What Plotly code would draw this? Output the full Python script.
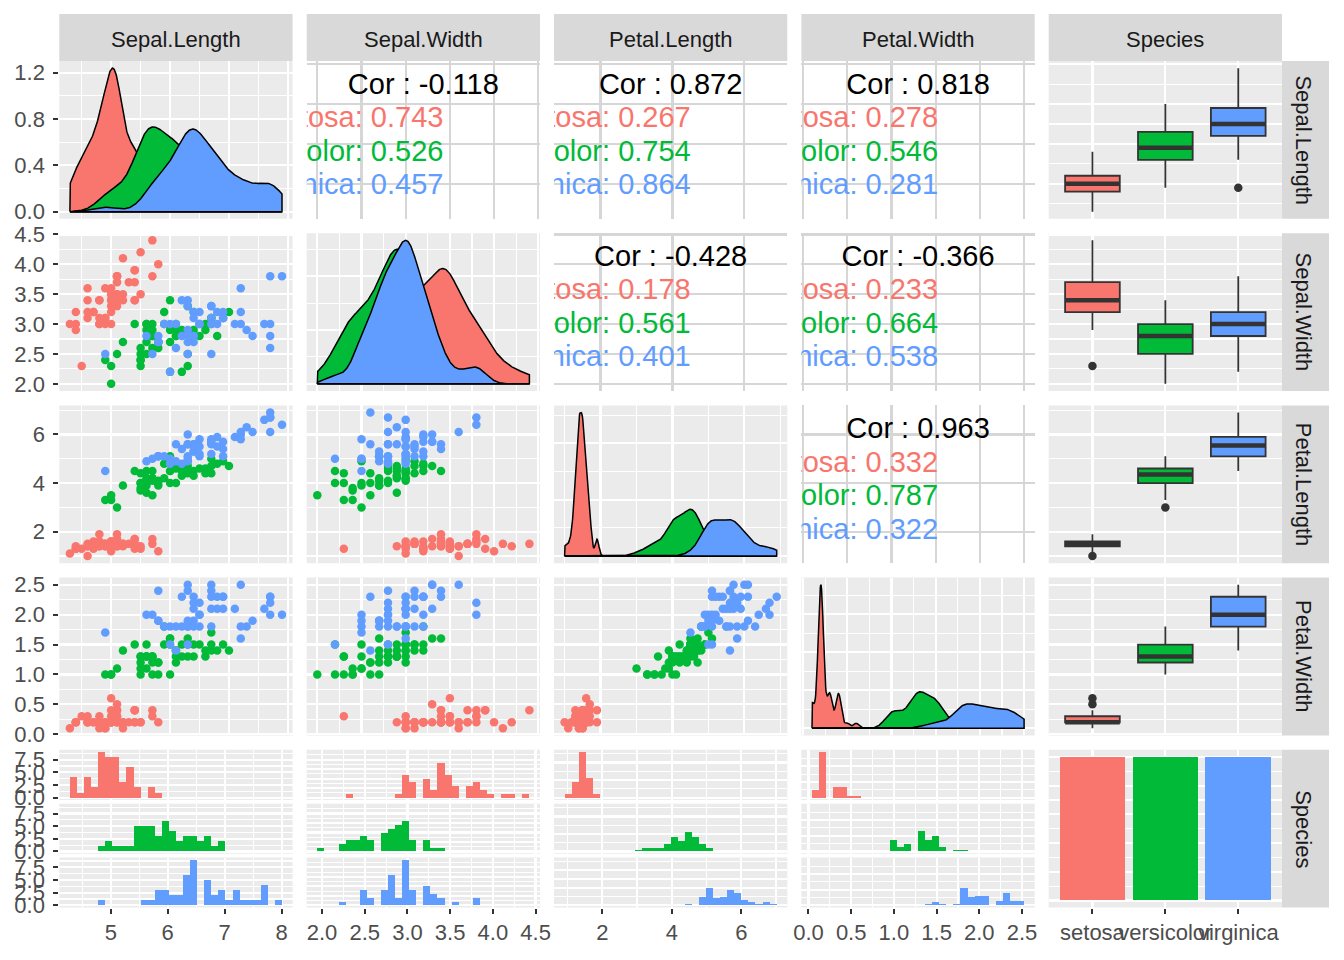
import numpy as np
import plotly.graph_objects as go
from math import ceil, floor, log10

W, H = 1344, 960
FONT = "Liberation Sans, Arial, sans-serif"

# ---------------- data ----------------
variables = ["Sepal.Length", "Sepal.Width", "Petal.Length", "Petal.Width"]
species_names = ["setosa", "versicolor", "virginica"]
species_colors = ["#F8766D", "#00BA38", "#619CFF"]

sepal_length = [
    5.1, 4.9, 4.7, 4.6, 5.0, 5.4, 4.6, 5.0, 4.4, 4.9, 5.4, 4.8, 4.8, 4.3, 5.8, 5.7, 5.4, 5.1, 5.7, 5.1,
    5.4, 5.1, 4.6, 5.1, 4.8, 5.0, 5.0, 5.2, 5.2, 4.7, 4.8, 5.4, 5.2, 5.5, 4.9, 5.0, 5.5, 4.9, 4.4, 5.1,
    5.0, 4.5, 4.4, 5.0, 5.1, 4.8, 5.1, 4.6, 5.3, 5.0,
    7.0, 6.4, 6.9, 5.5, 6.5, 5.7, 6.3, 4.9, 6.6, 5.2, 5.0, 5.9, 6.0, 6.1, 5.6, 6.7, 5.6, 5.8, 6.2, 5.6,
    5.9, 6.1, 6.3, 6.1, 6.4, 6.6, 6.8, 6.7, 6.0, 5.7, 5.5, 5.5, 5.8, 6.0, 5.4, 6.0, 6.7, 6.3, 5.6, 5.5,
    5.5, 6.1, 5.8, 5.0, 5.6, 5.7, 5.7, 6.2, 5.1, 5.7,
    6.3, 5.8, 7.1, 6.3, 6.5, 7.6, 4.9, 7.3, 6.7, 7.2, 6.5, 6.4, 6.8, 5.7, 5.8, 6.4, 6.5, 7.7, 7.7, 6.0,
    6.9, 5.6, 7.7, 6.3, 6.7, 7.2, 6.2, 6.1, 6.4, 7.2, 7.4, 7.9, 6.4, 6.3, 6.1, 7.7, 6.3, 6.4, 6.0, 6.9,
    6.7, 6.9, 5.8, 6.8, 6.7, 6.7, 6.3, 6.5, 6.2, 5.9]
sepal_width = [
    3.5, 3.0, 3.2, 3.1, 3.6, 3.9, 3.4, 3.4, 2.9, 3.1, 3.7, 3.4, 3.0, 3.0, 4.0, 4.4, 3.9, 3.5, 3.8, 3.8,
    3.4, 3.7, 3.6, 3.3, 3.4, 3.0, 3.4, 3.5, 3.4, 3.2, 3.1, 3.4, 4.1, 4.2, 3.1, 3.2, 3.5, 3.6, 3.0, 3.4,
    3.5, 2.3, 3.2, 3.5, 3.8, 3.0, 3.8, 3.2, 3.7, 3.3,
    3.2, 3.2, 3.1, 2.3, 2.8, 2.8, 3.3, 2.4, 2.9, 2.7, 2.0, 3.0, 2.2, 2.9, 2.9, 3.1, 3.0, 2.7, 2.2, 2.5,
    3.2, 2.8, 2.5, 2.8, 2.9, 3.0, 2.8, 3.0, 2.9, 2.6, 2.4, 2.4, 2.7, 2.7, 3.0, 3.4, 3.1, 2.3, 3.0, 2.5,
    2.6, 3.0, 2.6, 2.3, 2.7, 3.0, 2.9, 2.9, 2.5, 2.8,
    3.3, 2.7, 3.0, 2.9, 3.0, 3.0, 2.5, 2.9, 2.5, 3.6, 3.2, 2.7, 3.0, 2.5, 2.8, 3.2, 3.0, 3.8, 2.6, 2.2,
    3.2, 2.8, 2.8, 2.7, 3.3, 3.2, 2.8, 3.0, 2.8, 3.0, 2.8, 3.8, 2.8, 2.8, 2.6, 3.0, 3.4, 3.1, 3.0, 3.1,
    3.1, 3.1, 2.7, 3.2, 3.3, 3.0, 2.5, 3.0, 3.4, 3.0]
petal_length = [
    1.4, 1.4, 1.3, 1.5, 1.4, 1.7, 1.4, 1.5, 1.4, 1.5, 1.5, 1.6, 1.4, 1.1, 1.2, 1.5, 1.3, 1.4, 1.7, 1.5,
    1.7, 1.5, 1.0, 1.7, 1.9, 1.6, 1.6, 1.5, 1.4, 1.6, 1.6, 1.5, 1.5, 1.4, 1.5, 1.2, 1.3, 1.4, 1.3, 1.5,
    1.3, 1.3, 1.3, 1.6, 1.9, 1.4, 1.6, 1.4, 1.5, 1.4,
    4.7, 4.5, 4.9, 4.0, 4.6, 4.5, 4.7, 3.3, 4.6, 3.9, 3.5, 4.2, 4.0, 4.7, 3.6, 4.4, 4.5, 4.1, 4.5, 3.9,
    4.8, 4.0, 4.9, 4.7, 4.3, 4.4, 4.8, 5.0, 4.5, 3.5, 3.8, 3.7, 3.9, 5.1, 4.5, 4.5, 4.7, 4.4, 4.1, 4.0,
    4.4, 4.6, 4.0, 3.3, 4.2, 4.2, 4.2, 4.3, 3.0, 4.1,
    6.0, 5.1, 5.9, 5.6, 5.8, 6.6, 4.5, 6.3, 5.8, 6.1, 5.1, 5.3, 5.5, 5.0, 5.1, 5.3, 5.5, 6.7, 6.9, 5.0,
    5.7, 4.9, 6.7, 4.9, 5.7, 6.0, 4.8, 4.9, 5.6, 5.8, 6.1, 6.4, 5.6, 5.1, 5.6, 6.1, 5.6, 5.5, 4.8, 5.4,
    5.6, 5.1, 5.1, 5.9, 5.7, 5.2, 5.0, 5.2, 5.4, 5.1]
petal_width = [
    0.2, 0.2, 0.2, 0.2, 0.2, 0.4, 0.3, 0.2, 0.2, 0.1, 0.2, 0.2, 0.1, 0.1, 0.2, 0.4, 0.4, 0.3, 0.3, 0.3,
    0.2, 0.4, 0.2, 0.5, 0.2, 0.2, 0.4, 0.2, 0.2, 0.2, 0.2, 0.4, 0.1, 0.2, 0.2, 0.2, 0.2, 0.1, 0.2, 0.2,
    0.3, 0.3, 0.2, 0.6, 0.4, 0.3, 0.2, 0.2, 0.2, 0.2,
    1.4, 1.5, 1.5, 1.3, 1.5, 1.3, 1.6, 1.0, 1.3, 1.4, 1.0, 1.5, 1.0, 1.4, 1.3, 1.4, 1.5, 1.0, 1.5, 1.1,
    1.8, 1.3, 1.5, 1.2, 1.3, 1.4, 1.4, 1.7, 1.5, 1.0, 1.1, 1.0, 1.2, 1.6, 1.5, 1.6, 1.5, 1.3, 1.3, 1.3,
    1.2, 1.4, 1.2, 1.0, 1.3, 1.2, 1.3, 1.3, 1.1, 1.3,
    2.5, 1.9, 2.1, 1.8, 2.2, 2.1, 1.7, 1.8, 1.8, 2.5, 2.0, 1.9, 2.1, 2.0, 2.4, 2.3, 1.8, 2.2, 2.3, 1.5,
    2.3, 2.0, 2.0, 1.8, 2.1, 1.8, 1.8, 1.8, 2.1, 1.6, 1.9, 2.0, 2.2, 1.5, 1.4, 2.3, 2.4, 1.8, 1.8, 2.1,
    2.4, 2.3, 1.9, 2.3, 2.5, 2.3, 1.9, 2.0, 2.3, 1.8]
species = ["setosa"] * 50 + ["versicolor"] * 50 + ["virginica"] * 50

# correlation labels as printed in the upper panels (row var, col var)
cor_pairs = [(0, 1), (0, 2), (0, 3), (1, 2), (1, 3), (2, 3)]
cor_all = [-0.118, 0.872, 0.818, -0.428, -0.366, 0.963]
cor_setosa = [0.743, 0.267, 0.278, 0.178, 0.233, 0.332]
cor_versicolor = [0.526, 0.754, 0.546, 0.561, 0.664, 0.787]
cor_virginica = [0.457, 0.864, 0.281, 0.401, 0.538, 0.322]

# ---------------- helpers ----------------
data = [np.array(sepal_length), np.array(sepal_width), np.array(petal_length), np.array(petal_width)]
sp = np.array(species)
masks = [sp == s for s in species_names]


def extended(dmin, dmax, m=5):
    Q = [1, 5, 2, 2.5, 4, 3]
    w = [0.25, 0.2, 0.5, 0.05]
    n = len(Q)
    eps = 2.220446e-16 * 100
    best, best_score = None, -2.0
    rng = dmax - dmin
    j = 1
    while j < 30:
        stop = False
        for qi, q in enumerate(Q):
            sm = 1 - qi / (n - 1) - j + 1
            if w[0] * sm + w[1] + w[2] + w[3] < best_score:
                stop = True
                break
            k = 2
            while k < 60:
                dm = 2 - (k - 1) / (m - 1) if k >= m else 1
                if w[0] * sm + w[1] + w[2] * dm + w[3] < best_score:
                    break
                delta = rng / (k + 1) / j / q
                z = ceil(log10(delta))
                while z < 30:
                    step = j * q * 10.0 ** z
                    span = step * (k - 1)
                    if span > rng:
                        half = (span - rng) / 2
                        cm = 1 - 0.5 * (2 * half ** 2) / ((0.1 * rng) ** 2)
                    else:
                        cm = 1
                    if w[0] * sm + w[1] * cm + w[2] * dm + w[3] < best_score:
                        break
                    min_start = int(floor(dmax / step) * j - (k - 1) * j)
                    max_start = int(ceil(dmin / step) * j)
                    if min_start > max_start:
                        z += 1
                        continue
                    for start in range(min_start, max_start + 1):
                        lmin = start * (step / j)
                        lmax = lmin + step * (k - 1)
                        mod = lmin % step
                        v = 1 if ((mod < eps or step - mod < eps) and lmin <= 0 <= lmax) else 0
                        s = 1 - qi / (n - 1) - j + v
                        c = 1 - 0.5 * ((dmax - lmax) ** 2 + (dmin - lmin) ** 2) / ((0.1 * rng) ** 2)
                        r = (k - 1) / (lmax - lmin)
                        rt = (m - 1) / (max(lmax, dmax) - min(dmin, lmin))
                        g = 2 - max(r / rt, rt / r)
                        score = w[0] * s + w[1] * c + w[2] * g + w[3]
                        if score > best_score:
                            best_score, best = score, (lmin, lmax, step)
                    z += 1
                k += 1
        if stop:
            break
        j += 1
    return best


def fmt_for(step):
    d = 0
    while d < 6 and abs(step * 10 ** d - round(step * 10 ** d)) > 1e-6:
        d += 1
    return f".{d}f"


def expand(lo, hi):
    s = hi - lo
    return [lo - 0.05 * s, hi + 0.05 * s]


def kde(vals, grid):
    n = len(vals)
    sd = vals.std(ddof=1)
    q75, q25 = np.percentile(vals, [75, 25])
    lo = min(sd, (q75 - q25) / 1.34)
    bw = 0.9 * lo * n ** -0.2
    z = (grid[:, None] - vals[None, :]) / bw
    return np.exp(-0.5 * z * z).sum(1) / (n * bw * np.sqrt(2 * np.pi))


# ---------------- geometry ----------------
COL_L = [59.3, 306.7, 554.0, 801.4, 1048.7]
PW = 233.3
ROW_T = [61.0, 233.2, 405.4, 577.6, 749.8]
PH = 157.8
SUB_GAP = 3.75
SUB_H = (PH - 2 * SUB_GAP) / 3
STRIP_TOP = 14.0
STRIP_R = 1329.0
PANEL_BG = "#EBEBEB"
STRIP_BG = "#D9D9D9"
COR_GRID = "#D6D6D6"

fig = go.Figure()
axes = {}
shapes = []
annotations = []
counter = [0]


def axis(rng, brk=None, grid="white", minor=True, labels=False, tickvals=None, ticktext=None):
    ax = dict(range=rng, zeroline=False, showline=False, fixedrange=True, automargin=False,
              showgrid=True, gridcolor=grid, gridwidth=2.2,
              showticklabels=labels, ticks="outside" if labels else "",
              ticklen=5, tickwidth=2, tickcolor="#333333", tickangle=0,
              tickfont=dict(family=FONT, size=22, color="#4D4D4D"))
    if tickvals is not None:
        ax.update(tickmode="array", tickvals=tickvals, ticktext=ticktext)
    else:
        lmin, lmax, step = brk
        ax.update(tickmode="linear", tick0=lmin, dtick=step, tickformat=fmt_for(step))
        if minor:
            ax["minor"] = dict(tickmode="linear", tick0=lmin, dtick=step / 2, showgrid=True,
                               gridcolor=grid, gridwidth=1.1, ticks="")
    return ax


def yaxis(*a, **k):
    ax = axis(*a, **k)
    ax["ticklabelstandoff"] = 4
    return ax


def scale(lo, hi):
    """ggplot-like continuous scale: expanded range + breaks computed on it."""
    r = expand(lo, hi)
    return r, extended(r[0], r[1])


def panel(x0, y0, w, h, xax, yax, bg=PANEL_BG):
    counter[0] += 1
    k = counter[0]
    sfx = "" if k == 1 else str(k)
    xax = dict(xax, domain=[x0 / W, (x0 + w) / W], anchor="y" + sfx)
    yax = dict(yax, domain=[1 - (y0 + h) / H, 1 - y0 / H], anchor="x" + sfx)
    axes["xaxis" + sfx] = xax
    axes["yaxis" + sfx] = yax
    if bg:
        shapes.append(dict(type="rect", xref="paper", yref="paper", layer="below",
                           x0=x0 / W, x1=(x0 + w) / W, y0=1 - (y0 + h) / H, y1=1 - y0 / H,
                           fillcolor=bg, line=dict(width=0)))
    return "x" + sfx, "y" + sfx


var_scales = [scale(d.min(), d.max()) for d in data]
var_rng = [s[0] for s in var_scales]
var_brk = [s[1] for s in var_scales]

# ---------------- rows 1-4 ----------------
for i in range(4):
    for j in range(4):
        x0, y0 = COL_L[j], ROW_T[i]
        if i == j:
            d = data[j]
            grid = np.linspace(d.min(), d.max(), 512)
            dens = [kde(d[m], grid) for m in masks]
            M = max(v.max() for v in dens)
            yr_, yb_ = scale(0, M)
            xr, yr = panel(x0, y0, PW, PH, axis(var_rng[j], var_brk[j]),
                           yaxis(yr_, yb_, labels=(j == 0)))
            for dv, col in zip(dens, species_colors):
                px = np.concatenate([[grid[0]], grid, [grid[-1], grid[0]]])
                py = np.concatenate([[0], dv, [0, 0]])
                fig.add_trace(go.Scatter(x=px, y=py, mode="lines", fill="toself", fillcolor=col,
                                         line=dict(color="black", width=1.5), xaxis=xr, yaxis=yr,
                                         hoverinfo="skip"))
        elif i > j:
            xr, yr = panel(x0, y0, PW, PH, axis(var_rng[j], var_brk[j]),
                           yaxis(var_rng[i], var_brk[i], labels=(j == 0)))
            for m, col in zip(masks, species_colors):
                fig.add_trace(go.Scatter(x=data[j][m], y=data[i][m], mode="markers",
                                         marker=dict(color=col, size=8.5, line=dict(width=0)),
                                         xaxis=xr, yaxis=yr, hoverinfo="skip"))
        else:
            xr, yr = panel(x0, y0, PW, PH,
                           axis(var_rng[j], var_brk[j], grid=COR_GRID, minor=False),
                           axis(var_rng[i], var_brk[i], grid=COR_GRID, minor=False), bg="white")
            idx = cor_pairs.index((i, j))
            xlo, xhi = var_rng[j]
            ylo, yhi = var_rng[i]
            xmid = (xlo + xhi) / 2
            fig.add_trace(go.Scatter(
                x=[xmid], y=[ylo + 0.837 * (yhi - ylo)], mode="text",
                text=[f"Cor : {cor_all[idx]:.3f}"], textposition="middle center",
                textfont=dict(family=FONT, size=29, color="black"),
                xaxis=xr, yaxis=yr, cliponaxis=True, hoverinfo="skip"))
            vals = [cor_setosa[idx], cor_versicolor[idx], cor_virginica[idx]]
            fig.add_trace(go.Scatter(
                x=[xmid + 0.086 * (xhi - xlo)] * 3,
                y=[ylo + f * (yhi - ylo) for f in (0.627, 0.412, 0.202)],
                mode="text",
                text=[f"{s}: {v:.3f}" for s, v in zip(species_names, vals)],
                textposition="middle left",
                textfont=dict(family=FONT, size=29, color=species_colors),
                xaxis=xr, yaxis=yr, cliponaxis=True, hoverinfo="skip"))

    # boxplots in the Species column
    xr, yr = panel(COL_L[4], ROW_T[i], PW, PH,
                   axis([-0.6, 2.6], tickvals=[0, 1, 2], ticktext=species_names),
                   axis(var_rng[i], var_brk[i]))
    for si, (m, col) in enumerate(zip(masks, species_colors)):
        vals = data[i][m]
        fig.add_trace(go.Box(y=vals, x0=si, width=0.75, fillcolor=col, boxpoints="outliers",
                             jitter=0, pointpos=0, whiskerwidth=0,
                             line=dict(color="#333333", width=1.8),
                             marker=dict(color="#333333", size=8.5, line=dict(width=0)),
                             xaxis=xr, yaxis=yr, hoverinfo="skip"))
        med = float(np.median(vals))
        shapes.append(dict(type="line", xref=xr, yref=yr, x0=si - 0.375, x1=si + 0.375,
                           y0=med, y1=med, line=dict(color="#333333", width=4.5), layer="above"))

# ---------------- row 5: faceted histograms ----------------
for j in range(4):
    d = data[j]
    mn, mx = d.min(), d.max()
    bw = (mx - mn) / 29
    half = bw / 2
    first = half + np.floor((mn - half) / bw) * bw
    start = first + 1e-9
    nb = int(np.ceil((mx - start) / bw))
    edges = start + np.arange(nb + 1) * bw
    hx_rng, hx_brk = scale(edges[0], edges[-1])
    M = max(np.histogram(d[m], bins=edges)[0].max() for m in masks)
    hr, hb = scale(0, M)
    for s, (m, col) in enumerate(zip(masks, species_colors)):
        y0 = ROW_T[4] + s * (SUB_H + SUB_GAP)
        xr, yr = panel(COL_L[j], y0, PW, SUB_H,
                       axis(hx_rng, hx_brk, labels=(s == 2)),
                       yaxis(hr, hb, labels=(j == 0)))
        fig.add_trace(go.Histogram(x=d[m], xbins=dict(start=start, end=edges[-1], size=bw),
                                   marker=dict(color=col, line=dict(width=0)),
                                   xaxis=xr, yaxis=yr, hoverinfo="skip"))

counts = [int((sp == s).sum()) for s in species_names]
br, bb = scale(0, max(counts))
xr, yr = panel(COL_L[4], ROW_T[4], PW, PH,
               axis([-0.6, 2.6], tickvals=[0, 1, 2], ticktext=species_names, labels=True),
               axis(br, bb))
fig.add_trace(go.Bar(x=[0, 1, 2], y=counts, width=0.9, marker=dict(color=species_colors, line=dict(width=0)),
                     xaxis=xr, yaxis=yr, hoverinfo="skip"))

# ---------------- strips ----------------
top_labels = variables + ["Species"]
for j, lab in enumerate(top_labels):
    shapes.append(dict(type="rect", xref="paper", yref="paper", layer="below",
                       x0=COL_L[j] / W, x1=(COL_L[j] + PW) / W,
                       y0=1 - ROW_T[0] / H, y1=1 - STRIP_TOP / H,
                       fillcolor=STRIP_BG, line=dict(width=0)))
    annotations.append(dict(xref="paper", yref="paper", x=(COL_L[j] + PW / 2) / W,
                            y=1 - ((STRIP_TOP + ROW_T[0]) / 2 + 2) / H, text=lab, showarrow=False,
                            xanchor="center", yanchor="middle",
                            font=dict(family=FONT, size=22, color="#1A1A1A")))
R0 = COL_L[4] + PW
for i, lab in enumerate(top_labels):
    shapes.append(dict(type="rect", xref="paper", yref="paper", layer="below",
                       x0=R0 / W, x1=STRIP_R / W,
                       y0=1 - (ROW_T[i] + PH) / H, y1=1 - ROW_T[i] / H,
                       fillcolor=STRIP_BG, line=dict(width=0)))
    annotations.append(dict(xref="paper", yref="paper", x=((R0 + STRIP_R) / 2 - 2) / W,
                            y=1 - (ROW_T[i] + PH / 2) / H, text=lab, showarrow=False, textangle=90,
                            xanchor="center", yanchor="middle",
                            font=dict(family=FONT, size=22, color="#1A1A1A")))

fig.update_layout(template="none", width=W, height=H, margin=dict(l=0, r=0, t=0, b=0, autoexpand=False),
                  paper_bgcolor="white", plot_bgcolor="white", showlegend=False,
                  font=dict(family=FONT),
                  bargap=0, boxmode="overlay", hovermode=False,
                  shapes=shapes, annotations=annotations, **axes)

fig.write_html("out.html", config={"displayModeBar": False, "staticPlot": True},
               post_script="document.body.style.margin='0';document.body.style.overflow='hidden';")
